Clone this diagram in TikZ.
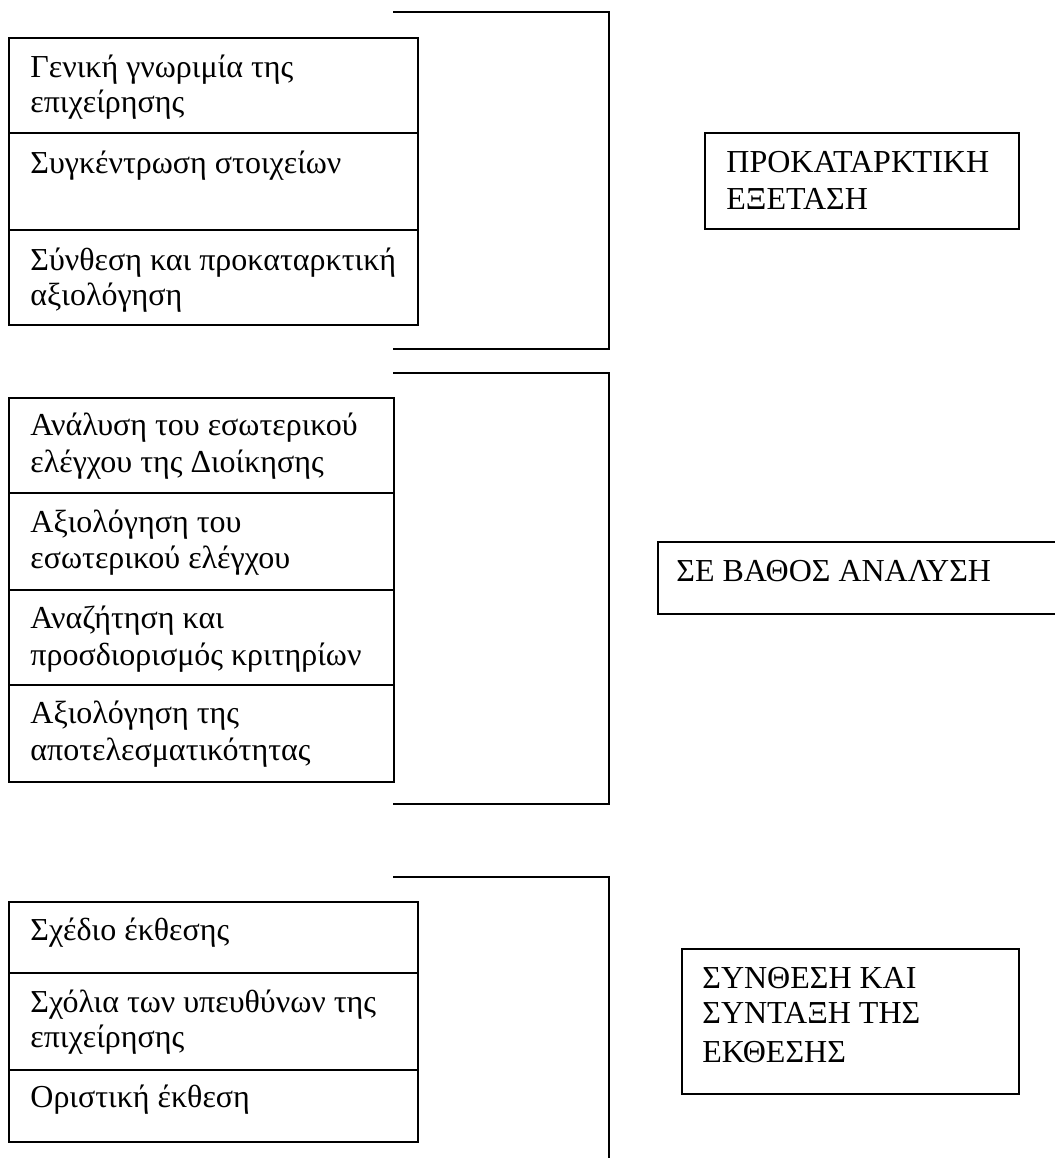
\documentclass[tikz,border=0pt]{standalone}
\usepackage{fontspec}
\setmainfont{Liberation Serif}
\begin{document}
\begin{tikzpicture}[x=0.5pt,y=-0.5pt,
  cell/.style={draw, line width=1pt, inner sep=0pt, anchor=north west},
  txt/.style={anchor=base west, inner sep=0pt, font=\fontsize{16pt}{18pt}\selectfont},
  brk/.style={draw, line width=1pt}]
\useasboundingbox (0,0) rectangle (1055,1158);
% block 1
\node[cell, minimum width=204.5pt, minimum height=47.5pt] (a1) at (8,37) {};
\node[cell, minimum width=204.5pt, minimum height=48.5pt] (a2) at (8,132) {};
\node[cell, minimum width=204.5pt, minimum height=47.5pt] (a3) at (8,229) {};
\node[txt] (ta1) at (30,77) {Γενική γνωριμία της};
\node[txt] (ta1b) at (30,112) {επιχείρησης};
\node[txt] (ta2) at (30,173) {Συγκέντρωση στοιχείων};
\node[txt] (ta3) at (30,270) {Σύνθεση και προκαταρκτική};
\node[txt] (ta3b) at (30,305) {αξιολόγηση};
\coordinate (b1a) at (393,12);
\coordinate (b1b) at (609,12);
\coordinate (b1c) at (609,349);
\coordinate (b1d) at (393,349);
\draw[brk] (b1a) -- (b1b) -- (b1c) -- (b1d);
\node[cell, minimum width=157pt, minimum height=48pt] (r1) at (704,132) {};
\node[txt] (tr1) at (726,172) {ΠΡΟΚΑΤΑΡΚΤΙΚΗ};
\node[txt] (tr1b) at (726,209) {ΕΞΕΤΑΣΗ};
% block 2
\node[cell, minimum width=192.5pt, minimum height=47.5pt] (c1) at (8,397) {};
\node[cell, minimum width=192.5pt, minimum height=48.5pt] (c2) at (8,492) {};
\node[cell, minimum width=192.5pt, minimum height=47.5pt] (c3) at (8,589) {};
\node[cell, minimum width=192.5pt, minimum height=48.5pt] (c4) at (8,684) {};
\node[txt] (tc1) at (30,435) {Ανάλυση του εσωτερικού};
\node[txt] (tc1b) at (30,472) {ελέγχου της Διοίκησης};
\node[txt] (tc2) at (30,532) {Αξιολόγηση του};
\node[txt] (tc2b) at (30,568) {εσωτερικού ελέγχου};
\node[txt] (tc3) at (30,628) {Αναζήτηση και};
\node[txt] (tc3b) at (30,665) {προσδιορισμός κριτηρίων};
\node[txt] (tc4) at (30,723) {Αξιολόγηση της};
\node[txt] (tc4b) at (30,760) {αποτελεσματικότητας};
\coordinate (b2a) at (393,373);
\coordinate (b2b) at (609,373);
\coordinate (b2c) at (609,804);
\coordinate (b2d) at (393,804);
\draw[brk] (b2a) -- (b2b) -- (b2c) -- (b2d);
\node[cell, minimum width=210pt, minimum height=36pt] (r2) at (657,541) {};
\node[txt] (tr2) at (676,581) {ΣΕ ΒΑΘΟΣ ΑΝΑΛΥΣΗ};
% block 3
\node[cell, minimum width=204.5pt, minimum height=35.5pt] (e1) at (8,901) {};
\node[cell, minimum width=204.5pt, minimum height=48.5pt] (e2) at (8,972) {};
\node[cell, minimum width=204.5pt, minimum height=36pt] (e3) at (8,1069) {};
\node[txt] (te1) at (30,940) {Σχέδιο έκθεσης};
\node[txt] (te2) at (30,1012) {Σχόλια των υπευθύνων της};
\node[txt] (te2b) at (30,1047) {επιχείρησης};
\node[txt] (te3) at (30,1107) {Οριστική έκθεση};
\coordinate (b3a) at (393,877);
\coordinate (b3b) at (609,877);
\coordinate (b3c) at (609,1170);
\draw[brk] (b3a) -- (b3b) -- (b3c);
\node[cell, minimum width=168.5pt, minimum height=72.5pt] (r3) at (681,948) {};
\node[txt] (tr3) at (702,988) {ΣΥΝΘΕΣΗ ΚΑΙ};
\node[txt] (tr3b) at (702,1023) {ΣΥΝΤΑΞΗ ΤΗΣ};
\node[txt] (tr3c) at (702,1062) {ΕΚΘΕΣΗΣ};
\end{tikzpicture}
\end{document}
